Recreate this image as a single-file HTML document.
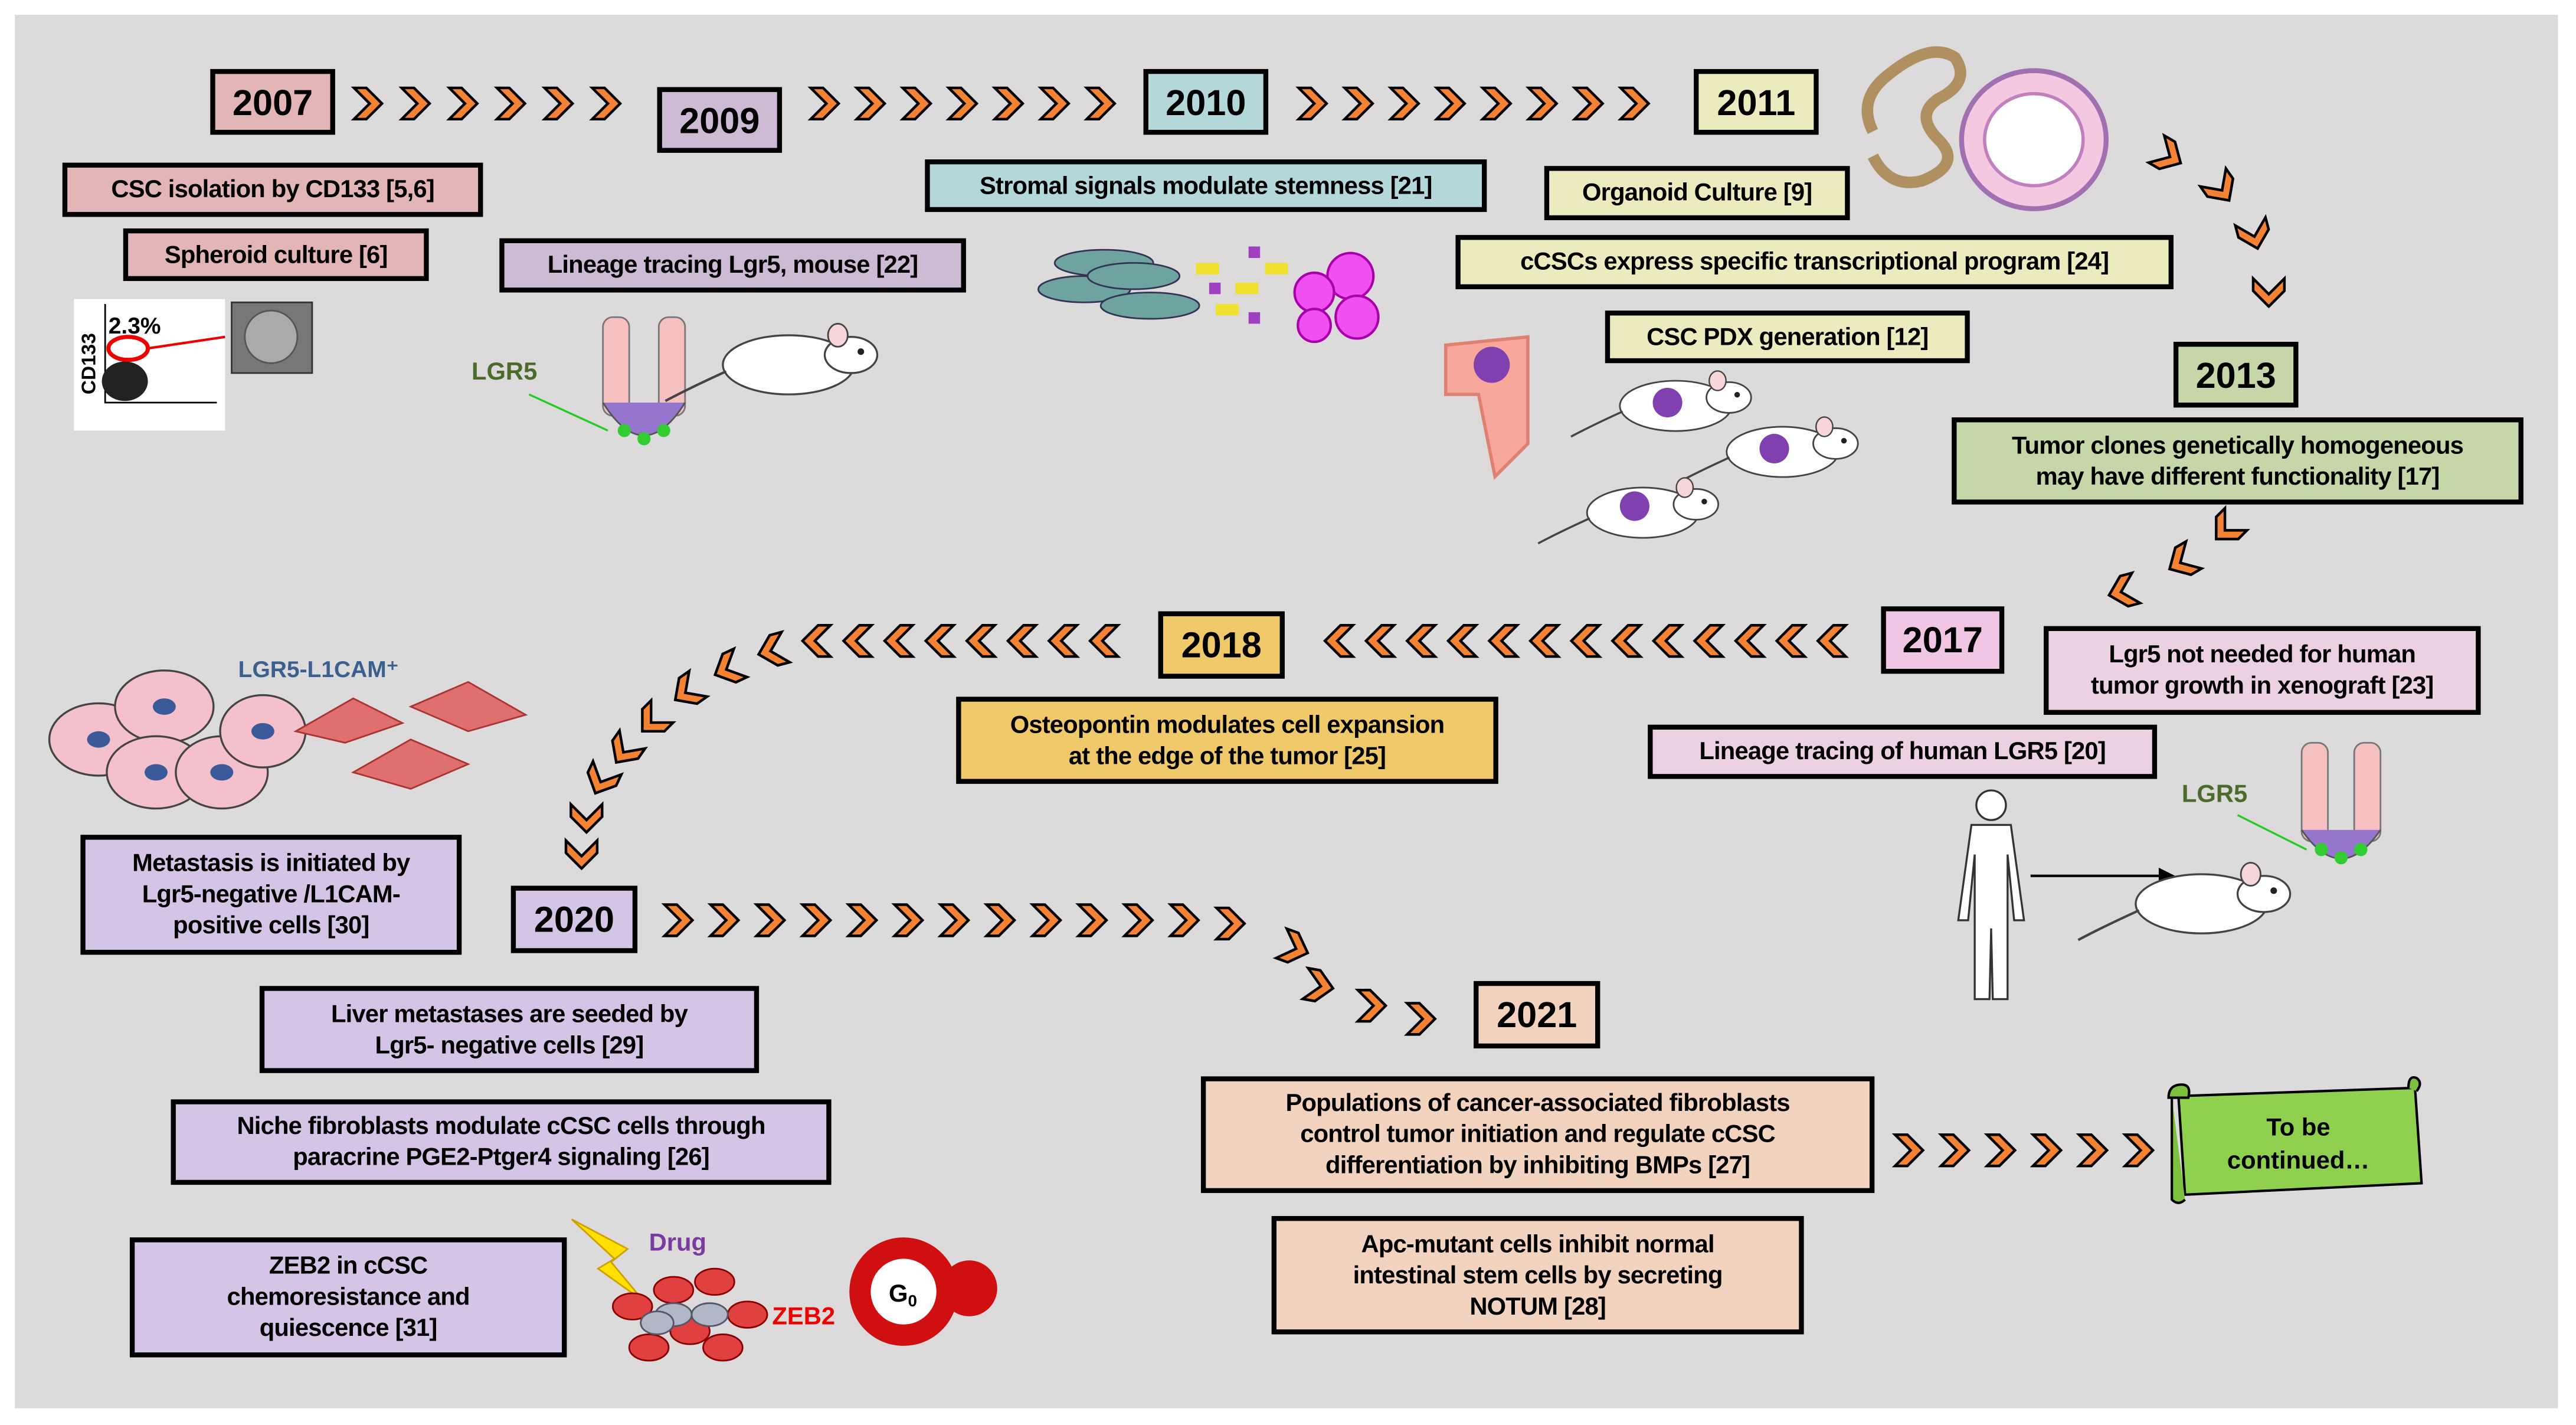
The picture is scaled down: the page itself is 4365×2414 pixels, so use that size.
<!DOCTYPE html>
<html><head><meta charset="utf-8">
<style>
html,body{margin:0;padding:0;background:#fff;}
body{width:4365px;height:2414px;overflow:hidden;position:relative;}
#s{position:absolute;left:0;top:0;width:1568px;height:867px;transform:scale(2.7838);transform-origin:0 0;}
#bg{position:absolute;left:9px;top:9px;width:1548px;height:848px;background:#dcdadb;}
.b{position:absolute;box-sizing:border-box;border:3px solid #000;display:flex;align-items:center;justify-content:center;text-align:center;font-family:"Liberation Sans",sans-serif;font-weight:bold;font-size:15px;line-height:19px;color:#000;letter-spacing:-0.3px;}
.y{font-size:22px;letter-spacing:0;}
.pk{background:#e2b6b6}.pu{background:#cdbbd6}.te{background:#b4d8da}.ye{background:#ecebc0}
.gr{background:#c5d7a8}.mg{background:#f0c6e4}.lp{background:#ecd1e3}.or{background:#f0c96a}
.lv{background:#d4c4e6}.pe{background:#f1d3bf}
svg{position:absolute;left:0;top:0;}
.t{font-family:"Liberation Sans",sans-serif;font-weight:bold;}
</style></head><body>
<div id="s">
<div id="bg"></div>
<svg width="1568" height="867" viewBox="0 0 1568 867">
<defs>
<symbol id="c" viewBox="0 0 18 20" width="18" height="20" overflow="visible">
<path d="M0.5,0.5 L8,0.5 L17.5,10 L8,19.5 L0.5,19.5 L10,10 Z" fill="#f58233" stroke="#000" stroke-width="1.6" stroke-linejoin="miter"/>
</symbol>
<g id="r"><use href="#c" x="-9" y="-10"/></g>
<g id="mouse">
<ellipse cx="0" cy="0" rx="40" ry="18" fill="#fff" stroke="#444" stroke-width="1.2"/>
<ellipse cx="38" cy="-6" rx="16" ry="11" fill="#fff" stroke="#444" stroke-width="1.2"/>
<ellipse cx="30" cy="-18" rx="6" ry="7" fill="#f6d6d6" stroke="#444" stroke-width="1"/>
<circle cx="44" cy="-8" r="2" fill="#222"/>
<path d="M-38,4 Q-60,14 -75,22" stroke="#444" stroke-width="1.5" fill="none"/>
</g>
</defs>
<g>
<use href="#r" x="224" y="63"/><use href="#r" x="253" y="63"/><use href="#r" x="282" y="63"/><use href="#r" x="311" y="63"/><use href="#r" x="340" y="63"/><use href="#r" x="369" y="63"/>
<use href="#r" x="502" y="63"/><use href="#r" x="530" y="63"/><use href="#r" x="558" y="63"/><use href="#r" x="586" y="63"/><use href="#r" x="614" y="63"/><use href="#r" x="642" y="63"/><use href="#r" x="670" y="63"/>
<use href="#r" x="799" y="63"/><use href="#r" x="827" y="63"/><use href="#r" x="855" y="63"/><use href="#r" x="883" y="63"/><use href="#r" x="911" y="63"/><use href="#r" x="939" y="63"/><use href="#r" x="967" y="63"/><use href="#r" x="995" y="63"/>
<use href="#r" transform="translate(1320,95) rotate(30)"/>
<use href="#r" transform="translate(1352,115) rotate(55)"/>
<use href="#r" transform="translate(1372,143) rotate(75)"/>
<use href="#r" transform="translate(1381,178) rotate(90)"/>
<use href="#r" transform="translate(1355,322) rotate(135)"/>
<use href="#r" transform="translate(1328,342) rotate(150)"/>
<use href="#r" transform="translate(1292,360) rotate(165)"/>
</g>
<g>
<use href="#r" transform="translate(1115,390) rotate(180)"/><use href="#r" transform="translate(1090,390) rotate(180)"/><use href="#r" transform="translate(1065,390) rotate(180)"/><use href="#r" transform="translate(1040,390) rotate(180)"/><use href="#r" transform="translate(1015,390) rotate(180)"/><use href="#r" transform="translate(990,390) rotate(180)"/><use href="#r" transform="translate(965,390) rotate(180)"/><use href="#r" transform="translate(940,390) rotate(180)"/><use href="#r" transform="translate(915,390) rotate(180)"/><use href="#r" transform="translate(890,390) rotate(180)"/><use href="#r" transform="translate(865,390) rotate(180)"/><use href="#r" transform="translate(840,390) rotate(180)"/><use href="#r" transform="translate(815,390) rotate(180)"/>
<use href="#r" transform="translate(672,390) rotate(180)"/><use href="#r" transform="translate(647,390) rotate(180)"/><use href="#r" transform="translate(622,390) rotate(180)"/><use href="#r" transform="translate(597,390) rotate(180)"/><use href="#r" transform="translate(572,390) rotate(180)"/><use href="#r" transform="translate(547,390) rotate(180)"/><use href="#r" transform="translate(522,390) rotate(180)"/><use href="#r" transform="translate(497,390) rotate(180)"/>
<use href="#r" transform="translate(470,396) rotate(165)"/>
<use href="#r" transform="translate(443,407) rotate(155)"/>
<use href="#r" transform="translate(418,421) rotate(145)"/>
<use href="#r" transform="translate(397,439) rotate(135)"/>
<use href="#r" transform="translate(380,457) rotate(125)"/>
<use href="#r" transform="translate(366,475) rotate(115)"/>
<use href="#r" transform="translate(357,498) rotate(90)"/>
<use href="#r" transform="translate(354,520) rotate(90)"/>
</g>
<g>
<use href="#r" x="413" y="560"/><use href="#r" x="441" y="560"/><use href="#r" x="469" y="560"/><use href="#r" x="497" y="560"/><use href="#r" x="525" y="560"/><use href="#r" x="553" y="560"/><use href="#r" x="581" y="560"/><use href="#r" x="609" y="560"/><use href="#r" x="637" y="560"/><use href="#r" x="665" y="560"/><use href="#r" x="693" y="560"/><use href="#r" x="721" y="560"/><use href="#r" x="749" y="562"/>
<use href="#r" transform="translate(788,577) rotate(20)"/>
<use href="#r" transform="translate(803,600) rotate(10)"/>
<use href="#r" transform="translate(835,612)"/>
<use href="#r" transform="translate(865,620)"/>
<use href="#r" x="1162" y="700"/><use href="#r" x="1190" y="700"/><use href="#r" x="1218" y="700"/><use href="#r" x="1246" y="700"/><use href="#r" x="1274" y="700"/><use href="#r" x="1302" y="700"/>
</g>

<path d="M1326,667 L1470,662 L1474,720 L1330,727 Z" fill="#8fd14f" stroke="#000" stroke-width="1.5"/>
<path d="M1320,668 q0,-8 8,-8 q6,0 4,8 Z M1322,668 L1322,730 q4,4 8,0" fill="#7cc03e" stroke="#000" stroke-width="1.5"/>
<path d="M1466,662 q0,-8 5,-6 q4,3 0,8" fill="#7cc03e" stroke="#000" stroke-width="1.5"/>
<text x="1399" y="691" text-anchor="middle" class="t" font-size="15">To be</text>
<text x="1399" y="711" text-anchor="middle" class="t" font-size="15">continued…</text>

<rect x="45" y="182" width="92" height="80" fill="#fff"/>
<path d="M64,185 L64,245 L132,245" stroke="#000" fill="none"/>
<ellipse cx="76" cy="232" rx="14" ry="12" fill="#222"/>
<ellipse cx="78" cy="212" rx="12" ry="7" fill="none" stroke="#e00" stroke-width="2.5"/>
<text x="66" y="203" class="t" font-size="14">2.3%</text>
<text x="58" y="240" class="t" font-size="12" transform="rotate(-90 58 240)">CD133</text>
<line x1="90" y1="212" x2="137" y2="205" stroke="#e00" stroke-width="1.5"/>
<rect x="141" y="184" width="49" height="43" fill="#777" stroke="#333"/>
<circle cx="165" cy="205" r="16" fill="#aaa" stroke="#555"/>

<g fill="#f4c0c0" stroke="#777" stroke-width="1">
<rect x="367" y="193" width="16" height="60" rx="6"/><rect x="401" y="193" width="16" height="60" rx="6"/>
</g>
<path d="M367,245 Q392,285 417,245" fill="#9575cd" stroke="#555"/>
<circle cx="380" cy="262" r="4" fill="#3c3"/><circle cx="392" cy="267" r="4" fill="#3c3"/><circle cx="404" cy="262" r="4" fill="#3c3"/>
<text x="287" y="231" class="t" font-size="15" fill="#4a6b2a">LGR5</text>
<line x1="322" y1="240" x2="370" y2="262" stroke="#2c2" stroke-width="1.2"/>
<use href="#mouse" transform="translate(480,222)"/>

<g fill="#6fa3a0" stroke="#335" stroke-width="1">
<ellipse cx="672" cy="160" rx="30" ry="8"/><ellipse cx="660" cy="176" rx="28" ry="8"/><ellipse cx="700" cy="186" rx="30" ry="8"/><ellipse cx="690" cy="168" rx="28" ry="8"/>
</g>
<g fill="#f0e030"><rect x="728" y="160" width="14" height="7"/><rect x="752" y="172" width="14" height="7"/><rect x="740" y="185" width="14" height="7"/><rect x="770" y="160" width="14" height="7"/></g>
<g fill="#a040c0"><rect x="736" y="172" width="7" height="7"/><rect x="760" y="150" width="7" height="7"/><rect x="760" y="190" width="7" height="7"/></g>
<g fill="#f050f0" stroke="#a0a" stroke-width="1.5">
<circle cx="822" cy="168" r="14"/><circle cx="800" cy="178" r="12"/><circle cx="826" cy="193" r="13"/><circle cx="800" cy="198" r="10"/>
</g>

<path d="M1140,80 Q1130,60 1150,45 Q1175,25 1190,35 Q1200,50 1180,60 Q1165,70 1180,85 Q1195,100 1170,110 Q1150,115 1140,95" stroke="#b09060" stroke-width="7" fill="none"/>
<ellipse cx="1238" cy="85" rx="44" ry="42" fill="#f4c8e0" stroke="#a070b0" stroke-width="3"/>
<ellipse cx="1238" cy="85" rx="30" ry="28" fill="#fff" stroke="#c080c0" stroke-width="2"/>
<path d="M880,210 L930,205 L930,270 L910,290 L900,240 L880,240 Z" fill="#f7a89a" stroke="#e08070" stroke-width="2"/>
<circle cx="908" cy="222" r="11" fill="#8040b0"/>
<use href="#mouse" transform="translate(1020,247) scale(0.85)"/><circle cx="1015" cy="245" r="9" fill="#8040b0"/>
<use href="#mouse" transform="translate(1085,275) scale(0.85)"/><circle cx="1080" cy="273" r="9" fill="#8040b0"/>
<use href="#mouse" transform="translate(1000,312) scale(0.85)"/><circle cx="995" cy="308" r="9" fill="#8040b0"/>

<circle cx="1212" cy="490" r="9" fill="#fff" stroke="#333" stroke-width="1.2"/>
<path d="M1200,502 L1224,502 L1232,560 L1226,560 L1222,520 L1222,608 L1213,608 L1212,565 L1211,608 L1202,608 L1202,520 L1198,560 L1192,560 Z" fill="#fff" stroke="#333" stroke-width="1.2"/>
<line x1="1236" y1="533" x2="1314" y2="533" stroke="#000" stroke-width="1.5"/>
<path d="M1314,528 L1324,533 L1314,538 Z"/>
<use href="#mouse" transform="translate(1340,550)"/>
<g fill="#f4c0c0" stroke="#777" stroke-width="1"><rect x="1401" y="452" width="16" height="60" rx="6"/><rect x="1433" y="452" width="16" height="60" rx="6"/></g>
<path d="M1401,505 Q1425,540 1449,505" fill="#9575cd" stroke="#555"/>
<circle cx="1413" cy="517" r="4" fill="#3c3"/><circle cx="1425" cy="522" r="4" fill="#3c3"/><circle cx="1437" cy="517" r="4" fill="#3c3"/>
<text x="1328" y="488" class="t" font-size="15" fill="#4a6b2a">LGR5</text>
<line x1="1362" y1="496" x2="1404" y2="517" stroke="#2c2" stroke-width="1.2"/>

<g fill="#f4c0cc" stroke="#444" stroke-width="1.2">
<ellipse cx="60" cy="450" rx="30" ry="22"/><ellipse cx="100" cy="430" rx="30" ry="22"/><ellipse cx="95" cy="470" rx="30" ry="22"/><ellipse cx="135" cy="470" rx="28" ry="22"/><ellipse cx="160" cy="445" rx="26" ry="22"/>
</g>
<g fill="#3a5a9a"><ellipse cx="60" cy="450" rx="7" ry="5"/><ellipse cx="100" cy="430" rx="7" ry="5"/><ellipse cx="95" cy="470" rx="7" ry="5"/><ellipse cx="135" cy="470" rx="7" ry="5"/><ellipse cx="160" cy="445" rx="7" ry="5"/></g>
<g fill="#e07070" stroke="#a33" stroke-width="1"><path d="M180,445 L215,425 L245,440 L210,452 Z"/><path d="M215,470 L250,450 L285,465 L250,480 Z"/><path d="M250,430 L285,415 L320,435 L285,445 Z"/></g>
<text x="145" y="412" class="t" font-size="14" fill="#3a6090">LGR5-L1CAM⁺</text>

<path d="M348,742 L382,760 L372,768 L392,792 L364,772 L374,766 Z" fill="#ffe000" stroke="#d0a000"/>
<text x="395" y="761" class="t" font-size="15" fill="#7a3aa0">Drug</text>
<g fill="#e04040" stroke="#800" stroke-width="1">
<ellipse cx="385" cy="795" rx="12" ry="8"/><ellipse cx="410" cy="785" rx="12" ry="8"/><ellipse cx="435" cy="780" rx="12" ry="8"/><ellipse cx="455" cy="800" rx="12" ry="8"/><ellipse cx="420" cy="810" rx="12" ry="8"/><ellipse cx="395" cy="820" rx="12" ry="8"/><ellipse cx="440" cy="820" rx="12" ry="8"/>
</g>
<g fill="#b0b8c8" stroke="#556" stroke-width="1"><ellipse cx="410" cy="800" rx="11" ry="7"/><ellipse cx="432" cy="800" rx="11" ry="7"/><ellipse cx="400" cy="805" rx="10" ry="7"/></g>
<text x="470" y="806" class="t" font-size="15" fill="#e00">ZEB2</text>
<circle cx="550" cy="786" r="33" fill="#d01010"/><circle cx="550" cy="786" r="20" fill="#fff"/>
<text x="541" y="792" class="t" font-size="15">G<tspan font-size="10" dy="3">0</tspan></text>
<circle cx="590" cy="784" r="17" fill="#d01010"/>
</svg>

<div class="b pk y" style="left:128px;top:42px;width:76px;height:40px">2007</div>
<div class="b pu y" style="left:400px;top:53px;width:76px;height:40px">2009</div>
<div class="b te y" style="left:696px;top:42px;width:76px;height:40px">2010</div>
<div class="b ye y" style="left:1031px;top:42px;width:76px;height:40px">2011</div>
<div class="b gr y" style="left:1323px;top:208px;width:76px;height:40px">2013</div>
<div class="b mg y" style="left:1145px;top:369px;width:75px;height:41px">2017</div>
<div class="b or y" style="left:705px;top:372px;width:77px;height:41px">2018</div>
<div class="b lv y" style="left:311px;top:539px;width:77px;height:41px">2020</div>
<div class="b pe y" style="left:897px;top:597px;width:77px;height:41px">2021</div>

<div class="b pk" style="left:38px;top:99px;width:256px;height:33px">CSC isolation by CD133 [5,6]</div>
<div class="b pk" style="left:75px;top:139px;width:186px;height:32px">Spheroid culture [6]</div>
<div class="b pu" style="left:304px;top:145px;width:284px;height:33px">Lineage tracing Lgr5, mouse [22]</div>
<div class="b te" style="left:563px;top:97px;width:342px;height:32px">Stromal signals modulate stemness [21]</div>
<div class="b ye" style="left:940px;top:101px;width:186px;height:33px">Organoid Culture [9]</div>
<div class="b ye" style="left:886px;top:143px;width:437px;height:33px">cCSCs express specific transcriptional program [24]</div>
<div class="b ye" style="left:977px;top:189px;width:222px;height:32px">CSC PDX generation [12]</div>
<div class="b gr" style="left:1188px;top:254px;width:348px;height:53px">Tumor clones genetically homogeneous<br>may have different functionality [17]</div>
<div class="b lp" style="left:1244px;top:381px;width:266px;height:54px">Lgr5 not needed for human<br>tumor growth in xenograft [23]</div>
<div class="b lp" style="left:1003px;top:441px;width:310px;height:33px">Lineage tracing of human LGR5 [20]</div>
<div class="b or" style="left:582px;top:424px;width:330px;height:53px">Osteopontin modulates cell expansion<br>at the edge of the tumor [25]</div>
<div class="b lv" style="left:49px;top:508px;width:232px;height:73px">Metastasis is initiated by<br>Lgr5-negative /L1CAM-<br>positive cells [30]</div>
<div class="b lv" style="left:158px;top:600px;width:304px;height:53px">Liver metastases are seeded by<br>Lgr5- negative cells [29]</div>
<div class="b lv" style="left:104px;top:669px;width:402px;height:52px">Niche fibroblasts modulate cCSC cells through<br>paracrine PGE2-Ptger4 signaling [26]</div>
<div class="b lv" style="left:79px;top:753px;width:266px;height:73px">ZEB2 in cCSC<br>chemoresistance and<br>quiescence [31]</div>
<div class="b pe" style="left:731px;top:655px;width:410px;height:71px">Populations of cancer-associated fibroblasts<br>control tumor initiation and regulate cCSC<br>differentiation by inhibiting BMPs [27]</div>
<div class="b pe" style="left:774px;top:740px;width:324px;height:72px">Apc-mutant cells inhibit normal<br>intestinal stem cells by secreting<br>NOTUM [28]</div>
</div>
</body></html>
